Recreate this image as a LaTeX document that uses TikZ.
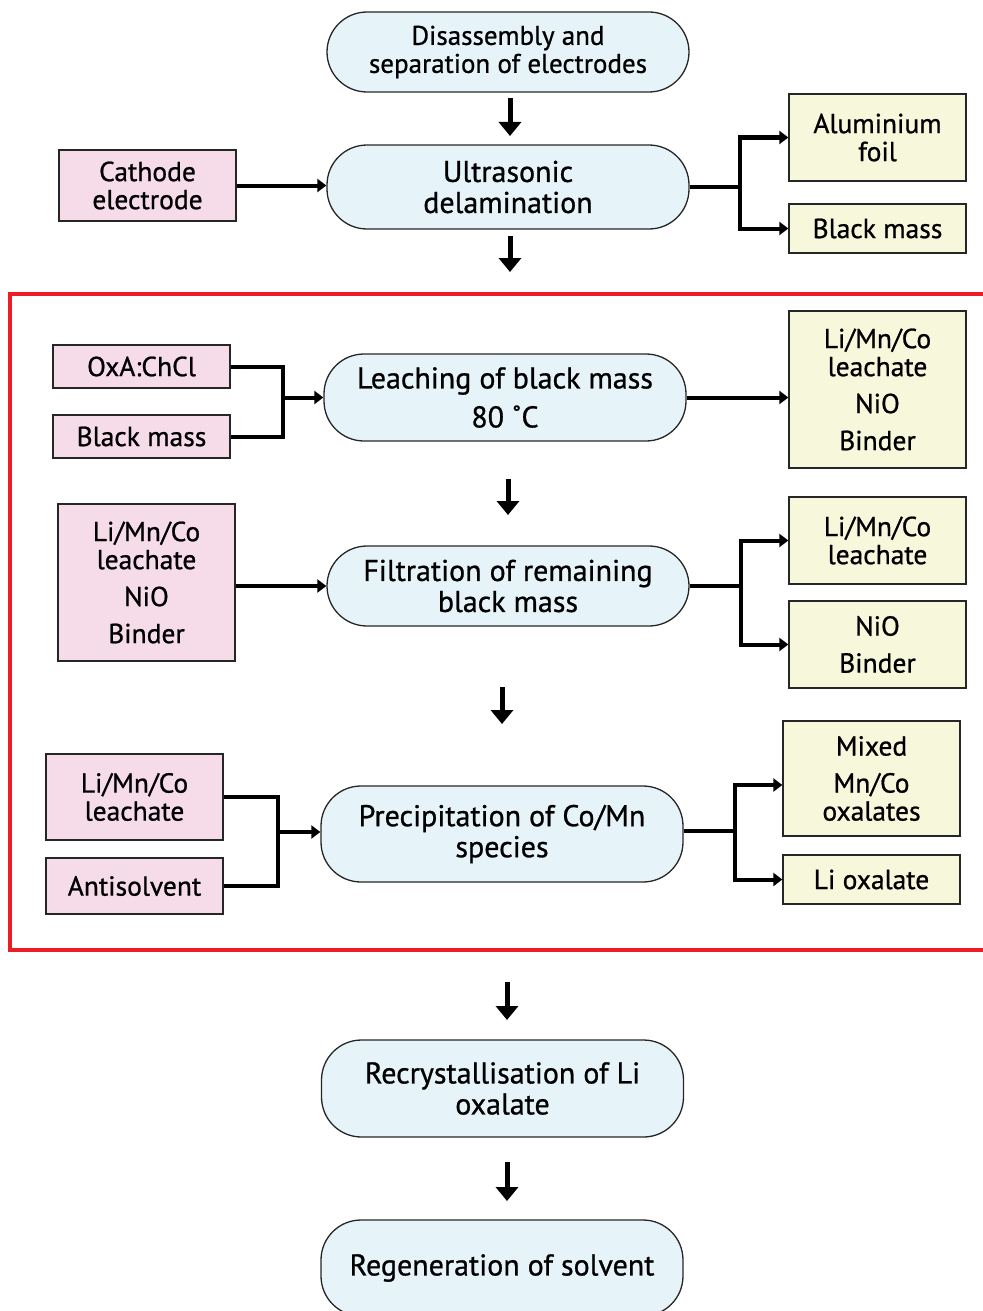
\documentclass[tikz,border=0pt]{standalone}
\usepackage{fontspec}
\setmainfont{PT Sans}[FakeBold=0.8]
\usetikzlibrary{arrows.meta}
\definecolor{procblue}{HTML}{E6F4FA}
\definecolor{inpink}{HTML}{F5DCE8}
\definecolor{outyellow}{HTML}{F7F7DC}
\definecolor{framered}{HTML}{EE1C25}
\newcommand{\procsize}{\fontsize{30}{31}\selectfont}
\newcommand{\topsize}{\fontsize{27}{28}\selectfont}
\newcommand{\boxsize}{\fontsize{27.5}{28}\selectfont}
\tikzset{
  proc/.style={draw=black!85, line width=1.3pt, fill=procblue, rounded corners=40pt,
    minimum width=362pt, minimum height=84pt, align=center, font=\procsize, inner sep=0pt},
  inbox/.style={draw=black!85, line width=1.3pt, fill=inpink, minimum width=177pt,
    align=center, font=\boxsize, inner sep=0pt},
  outbox/.style={draw=black!85, line width=1.3pt, fill=outyellow, minimum width=177pt,
    align=center, font=\boxsize, inner sep=0pt},
  link/.style={line width=4pt},
  conn/.style={line width=4pt, -{Triangle[length=9pt,width=13pt]}},
  downarrow/.style={line width=5pt, -{Triangle[length=14pt,width=22pt]}},
}
\begin{document}
\begin{tikzpicture}[x=1pt,y=-1pt]
\useasboundingbox (0,0) rectangle (982,1311);
% frame
\draw[framered, line width=4pt] (10,294) rectangle (1010,950);

% top part
\node[proc, font=\topsize, minimum height=80pt] (dis) at (508,52) {Disassembly and\\separation of electrodes};
\node[proc] (ult) at (508,187) {Ultrasonic\\delamination};
\node[inbox, minimum height=71pt] (cat) at (147.5,185.5) {Cathode\\electrode};
\node[outbox, minimum height=87pt] (alu) at (877.5,137.5) {Aluminium\\foil};
\node[outbox, minimum height=49pt] (bma) at (877.5,228.5) {Black mass};

\coordinate (d1s) at (510,98);
\coordinate (d1e) at (510,136);
\draw[downarrow] (d1s) -- (d1e);
\draw[conn] (cat.east) -- (cat.east -| ult.west);
\coordinate (b1) at (740,187);
\draw[link] (ult.east) -- (b1);
\draw[conn] (b1) |- (alu.west);
\draw[conn] (b1) |- (bma.west);
\coordinate (d2s) at (510,236);
\coordinate (d2e) at (510,272);
\draw[downarrow] (d2s) -- (d2e);

% leaching
\node[proc, minimum height=87pt] (lea) at (505,397.5) {Leaching of black mass\\[8pt]80 ˚C};
\node[inbox, minimum height=43pt] (oxa) at (141.5,366.5) {OxA:ChCl};
\node[inbox, minimum height=43pt] (bmb) at (141.5,436.5) {Black mass};
\node[outbox, minimum height=157pt] (lo1) at (877.5,389.5) {Li/Mn/Co\\leachate\\[9pt]NiO\\[9pt]Binder};
\coordinate (j1) at (283,397.5);
\draw[link] (oxa.east) -| (j1) |- (bmb.east);
\draw[conn] (j1) -- (lea.west);
\draw[conn] (lea.east) -- (lo1.west |- lea.east);
\coordinate (d3s) at (508,479);
\coordinate (d3e) at (508,515);
\draw[downarrow] (d3s) -- (d3e);

% filtration
\node[proc, minimum height=80pt] (fil) at (508,586) {Filtration of remaining\\black mass};
\node[inbox, minimum height=157pt] (fin) at (146.5,582.5) {Li/Mn/Co\\leachate\\[9pt]NiO\\[9pt]Binder};
\node[outbox, minimum height=87pt] (fo1) at (877.5,540.5) {Li/Mn/Co\\leachate};
\node[outbox, minimum height=87pt] (fo2) at (877.5,644.5) {NiO\\[9pt]Binder};
\draw[conn] (fin.east |- fil.west) -- (fil.west);
\coordinate (b2) at (741,586);
\draw[link] (fil.east) -- (b2);
\draw[conn] (b2) |- (fo1.west);
\draw[conn] (b2) |- (fo2.west);
\coordinate (d4s) at (502,687);
\coordinate (d4e) at (502,724);
\draw[downarrow] (d4s) -- (d4e);

% precipitation
\node[proc, minimum height=96pt] (pre) at (502,834) {Precipitation of Co/Mn\\species};
\node[inbox, minimum height=86pt] (pi1) at (134.5,797) {Li/Mn/Co\\leachate};
\node[inbox, minimum height=56pt] (pi2) at (134.5,886) {Antisolvent};
\node[outbox, minimum height=115pt] (po1) at (871.5,778.5) {Mixed\\[9pt]Mn/Co\\oxalates};
\node[outbox, minimum height=49pt] (po2) at (871.5,879.5) {Li oxalate};
\coordinate (j2) at (278,832);
\draw[link] (pi1.east) -| (j2) |- (pi2.east);
\draw[conn] (j2) -- (j2 -| pre.west);
\coordinate (b3) at (735,831);
\draw[link] (pre.east |- b3) -- (b3);
\draw[conn] (b3) |- (po1.west |- 0,785);
\draw[conn] (b3) |- (po2.west);

% bottom
\coordinate (d5s) at (507,982);
\coordinate (d5e) at (507,1020);
\draw[downarrow] (d5s) -- (d5e);
\node[proc, minimum height=97pt] (rec) at (502.5,1088.5) {Recrystallisation of Li\\oxalate};
\coordinate (d6s) at (507,1162);
\coordinate (d6e) at (507,1201);
\draw[downarrow] (d6s) -- (d6e);
\node[proc, minimum height=96pt] (reg) at (502,1268) {Regeneration of solvent};
\end{tikzpicture}
\end{document}
